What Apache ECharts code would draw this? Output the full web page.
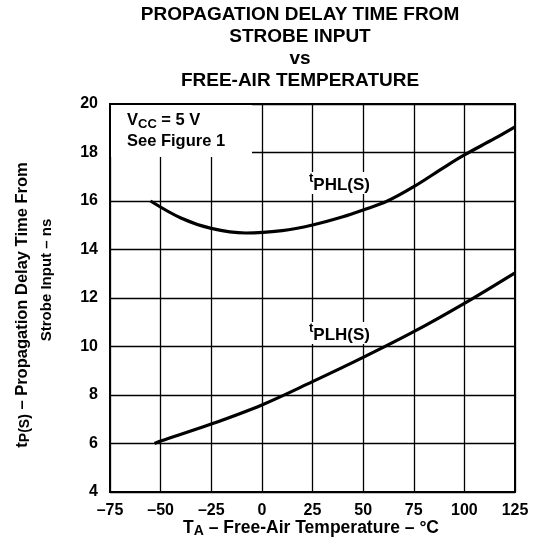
<!DOCTYPE html>
<html>
<head>
<meta charset="utf-8">
<script src="https://cdn.jsdelivr.net/npm/echarts@6/dist/echarts.min.js"></script>
<style>
  html, body { margin: 0; padding: 0; background: #fff; }
  #chart { width: 539px; height: 548px; }
</style>
</head>
<body>
<div id="chart"></div>
<script>
// tPHL(S) curve
var phlTemp  = [-55, -40, -25, -8, 10, 25, 40, 50, 62, 75, 90, 100, 115, 125];
var phlDelay = [16.0, 15.3, 14.87, 14.68, 14.78, 15.01, 15.35, 15.63, 16.0, 16.59, 17.39, 17.9, 18.58, 19.06];

// tPLH(S) curve
var plhTemp  = [-53, -50, -25, 0, 25, 50, 75, 100, 125];
var plhDelay = [6.0, 6.1, 6.8, 7.59, 8.55, 9.55, 10.61, 11.78, 13.04];

// tick labels
var xTicks = { '-75': '\u201375', '-50': '\u201350', '-25': '\u201325', '0': '0', '25': '25', '50': '50', '75': '75', '100': '100', '125': '125' };
var yTicks = ['4', '6', '8', '10', '12', '14', '16', '18', '20'];

var FONT = '"Liberation Sans", Arial, sans-serif';

function zip(xs, ys) {
    var out = [];
    for (var i = 0; i < xs.length; i++) out.push([xs[i], ys[i]]);
    return out;
}

var chart = echarts.init(document.getElementById('chart'));

var curveLabel = function (sub) {
    return {
        show: true,
        position: 'inside',
        formatter: '{t|t}{s|' + sub + '}',
        backgroundColor: '#fff',
        padding: [0, 3, 0, 2],
        rich: {
            t: { fontSize: 13, fontWeight: 'bold', fontFamily: FONT, color: '#000', lineHeight: 15, verticalAlign: 'top' },
            s: { fontSize: 17, fontWeight: 'bold', fontFamily: FONT, color: '#000', lineHeight: 22, verticalAlign: 'bottom' }
        }
    };
};

var option = {
    animation: false,
    backgroundColor: '#fff',
    title: {
        text: 'PROPAGATION DELAY TIME FROM\nSTROBE INPUT\nvs\nFREE-AIR TEMPERATURE',
        left: 300,
        top: 4,
        padding: 0,
        textAlign: 'center',
        textStyle: {
            fontFamily: FONT,
            fontWeight: 'bold',
            fontSize: 19,
            lineHeight: 22,
            color: '#000'
        }
    },
    grid: {
        left: 110,
        right: 24,
        top: 104,
        bottom: 56,
        show: true,
        z: 5,
        borderColor: '#000',
        borderWidth: 2,
        backgroundColor: 'transparent'
    },
    xAxis: {
        type: 'value',
        min: -75,
        max: 125,
        interval: 25,
        axisLine: { show: false },
        axisTick: { show: false },
        splitLine: { show: true, lineStyle: { color: '#000', width: 1.3 } },
        axisLabel: {
            margin: 11,
            fontFamily: FONT,
            fontWeight: 'bold',
            fontSize: 16,
            color: '#000',
            formatter: function (v) { return xTicks[String(v)]; }
        }
    },
    yAxis: {
        type: 'value',
        min: 4,
        max: 20,
        interval: 2,
        axisLine: { show: false },
        axisTick: { show: false },
        splitLine: { show: true, lineStyle: { color: '#000', width: 1.3 } },
        axisLabel: {
            margin: 12,
            fontFamily: FONT,
            fontWeight: 'bold',
            fontSize: 16,
            color: '#000',
            formatter: function (v) { return yTicks[(v - 4) / 2]; }
        }
    },
    series: [
        {
            name: 'tPHL(S)',
            type: 'line',
            data: zip(phlTemp, phlDelay),
            smooth: 0.35,
            showSymbol: false,
            lineStyle: { color: '#000', width: 3.2 },
            markPoint: {
                symbol: 'circle',
                symbolSize: 0,
                data: [{ coord: [38.6, 16.74] }],
                label: curveLabel('PHL(S)')
            }
        },
        {
            name: 'tPLH(S)',
            type: 'line',
            data: zip(plhTemp, plhDelay),
            smooth: 0.35,
            showSymbol: false,
            lineStyle: { color: '#000', width: 3.2 },
            markPoint: {
                symbol: 'circle',
                symbolSize: 0,
                data: [{ coord: [38.6, 10.56] }],
                label: curveLabel('PLH(S)')
            }
        }
    ],
    graphic: [
        // white box behind the conditions note
        {
            type: 'rect',
            z: 50,
            shape: { x: 111, y: 105, width: 141, height: 52 },
            style: { fill: '#fff' }
        },
        {
            type: 'text',
            z: 60,
            left: 127,
            top: 112,
            style: {
                text: '{v|V}{s|CC}{v| = 5 V}\n{v|See Figure 1}',
                fill: '#000',
                rich: {
                    v: { fontFamily: FONT, fontWeight: 'bold', fontSize: 16.5, lineHeight: 21, fill: '#000' },
                    s: { fontFamily: FONT, fontWeight: 'bold', fontSize: 13, lineHeight: 14, verticalAlign: 'bottom', fill: '#000' }
                }
            }
        },
        // y axis title, two lines
        {
            type: 'text',
            z: 60,
            x: 22,
            y: 305,
            rotation: Math.PI / 2,
            style: {
                text: '{v|t}{s|P(S)}{v| \u2013 Propagation Delay Time From}',
                align: 'center',
                verticalAlign: 'middle',
                fill: '#000',
                rich: {
                    v: { fontFamily: FONT, fontWeight: 'bold', fontSize: 16.5, lineHeight: 21, fill: '#000' },
                    s: { fontFamily: FONT, fontWeight: 'bold', fontSize: 14, lineHeight: 15, verticalAlign: 'bottom', fill: '#000' }
                }
            }
        },
        {
            type: 'text',
            z: 60,
            x: 47,
            y: 280,
            rotation: Math.PI / 2,
            style: {
                text: 'Strobe Input \u2013 ns',
                align: 'center',
                verticalAlign: 'middle',
                fill: '#000',
                font: 'bold 15px ' + FONT
            }
        },
        // x axis title
        {
            type: 'text',
            z: 60,
            x: 311,
            y: 528,
            style: {
                text: '{v|T}{s|A}{v| \u2013 Free-Air Temperature \u2013 \u00b0C}',
                align: 'center',
                verticalAlign: 'middle',
                fill: '#000',
                rich: {
                    v: { fontFamily: FONT, fontWeight: 'bold', fontSize: 17.5, lineHeight: 21, fill: '#000' },
                    s: { fontFamily: FONT, fontWeight: 'bold', fontSize: 14, lineHeight: 15, verticalAlign: 'bottom', fill: '#000' }
                }
            }
        }
    ]
};

chart.setOption(option);
</script>
</body>
</html>
